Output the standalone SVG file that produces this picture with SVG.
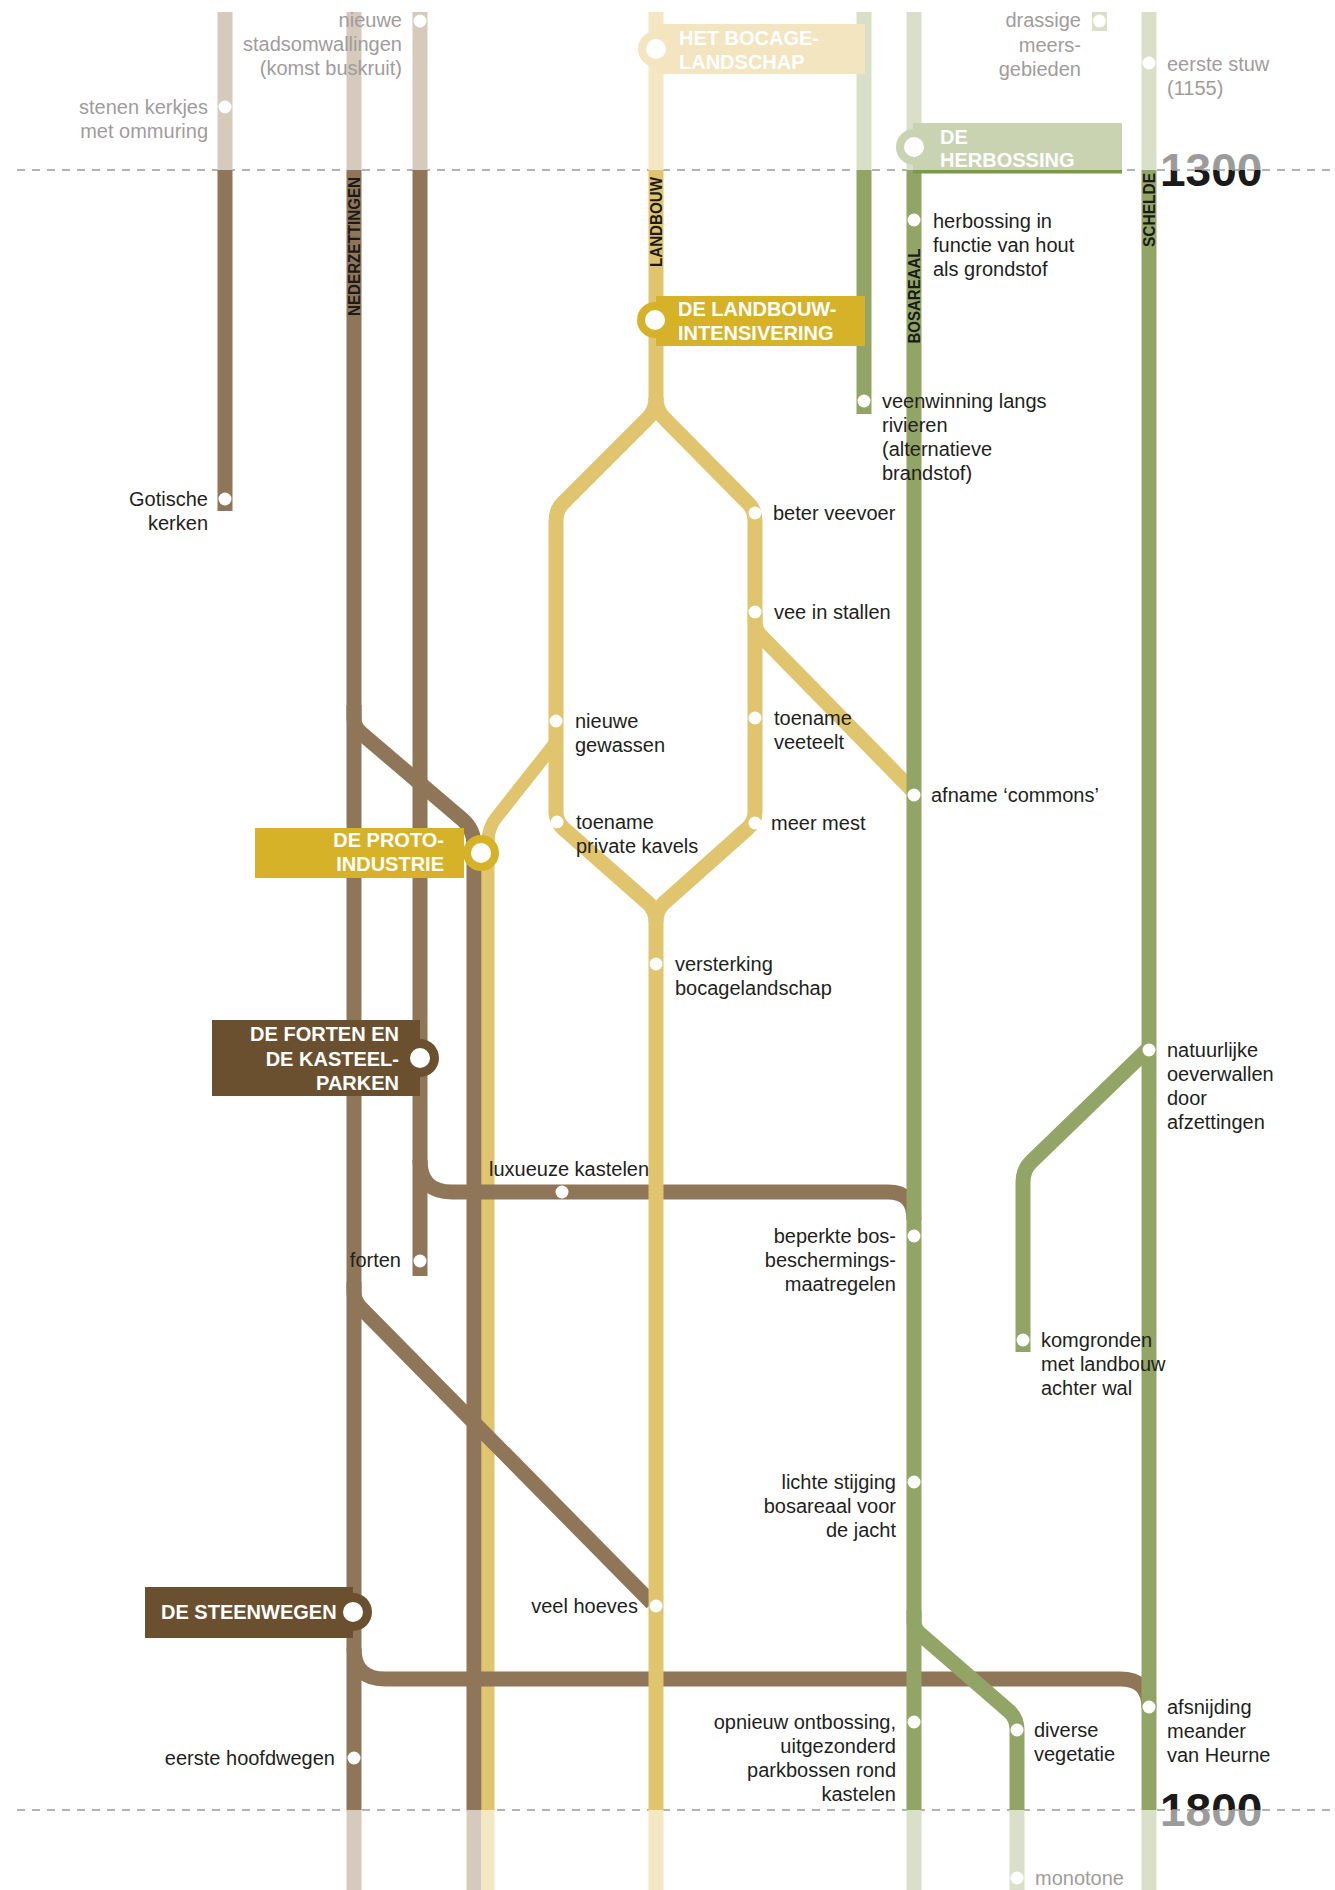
<svg xmlns="http://www.w3.org/2000/svg" width="1335" height="1890" viewBox="0 0 1335 1890">
<defs>
<style>
.t{font-family:"Liberation Sans",Arial,sans-serif;font-size:20px;fill:#231f20}
.f{fill:#a19c9c}
.e{text-anchor:end}
.h{font-family:"Liberation Sans",Arial,sans-serif;font-size:20px;font-weight:bold;fill:#fff}
.v{font-family:"Liberation Sans",Arial,sans-serif;font-weight:bold;font-size:17px;fill:#1a1a1a;text-anchor:middle}
.yr{font-family:"Liberation Sans",Arial,sans-serif;font-weight:bold;font-size:46px}
.l{fill:none;stroke-width:15;stroke-linecap:butt;stroke-linejoin:round}
.br{stroke:#8f7659}.ye{stroke:#e0c46e}.gr{stroke:#92a466}
.fb{stroke:#d6cabc}.fy{stroke:#f3e7c4}.fg{stroke:#dae0c8}
.d{fill:#fff}
.dash{stroke:#9a9a9a;stroke-width:1.3;stroke-dasharray:8 7;fill:none}
</style>
<linearGradient id="g1300" gradientUnits="userSpaceOnUse" x1="0" y1="150" x2="0" y2="190">
<stop offset="0.5" stop-color="#9b9b9b"/><stop offset="0.5" stop-color="#1a1a1a"/>
</linearGradient>
<linearGradient id="g1800" gradientUnits="userSpaceOnUse" x1="0" y1="1790" x2="0" y2="1830">
<stop offset="0.5" stop-color="#1a1a1a"/><stop offset="0.5" stop-color="#9b9b9b"/>
</linearGradient>
</defs>
<rect x="0" y="0" width="1335" height="1890" fill="#fff"/>
<g id="timeline">
<text class="yr" x="1160" y="186" fill="url(#g1300)">1300</text>
<text class="yr" x="1160" y="1826" fill="url(#g1800)">1800</text>
<line class="dash" x1="17" y1="170" x2="1335" y2="170"/>
<line class="dash" x1="17" y1="1810" x2="1335" y2="1810"/>
</g>
<g id="connectors">
<path class="l fb" d="M225,12V170M354,12V170M420,12V170"/>
<path class="l fy" d="M656,12V170"/>
<path class="l fg" d="M864,12V170M914,12V170M1149,12V170M1099.5,12V31"/>
<path class="l fb" d="M354,1810V1890M474,1810V1890"/>
<path class="l fy" d="M656,1810V1890"/>
<path class="l fy" style="stroke-width:13" d="M488,1810V1890"/>
<path class="l fg" d="M914,1810V1890M1017,1810V1890M1149,1810V1890"/>
<path class="l ye" style="stroke-width:13" d="M556,742L496,818Q488,828 488,842L488,1810"/>
<path class="l br" d="M225,170V511M354,170V1810M420,170V1276"/>
<path class="l br" d="M354,705L354,718Q354,727 361,733L463,820Q474,830 474,845L474,1810"/>
<path class="l br" d="M354,1282L354,1292Q354,1300 360,1307L652,1603"/>
<path class="l br" d="M420,1160Q420,1192 452,1192L888,1192Q914,1192 914,1220"/>
<path class="l br" d="M354,1648Q354,1679 385,1679L1120,1679Q1149,1679 1149,1708"/>
<path class="l gr" d="M914,1610L914,1622Q914,1628 919,1633L1010,1712Q1017,1719 1017,1730L1017,1810"/>
<path class="l ye" d="M656,170L656,400"/>
<path class="l ye" d="M656,398Q656,410 648,418L563,503Q556,510 556,521L556,812Q556,822 564,829L648,903Q656,910 656,922L656,1810"/>
<path class="l ye" d="M656,398Q656,410 664,418L748,503Q755,510 755,521L755,812Q755,822 747,829L664,903Q656,910 656,922"/>
<path class="l ye" d="M755,612L755,622Q755,630 761,636L914,792"/>
<path class="l gr" d="M864,170V414M914,170V1810M1149,170V1810"/>
<path class="l gr" d="M1149,1048L1031,1162Q1023,1170 1023,1182V1352"/>
</g>
<g id="line-labels">
<text class="v" transform="translate(360,246.5) rotate(-90)" textLength="139" lengthAdjust="spacingAndGlyphs">NEDERZETTINGEN</text>
<text class="v" transform="translate(662,222) rotate(-90)" textLength="90" lengthAdjust="spacingAndGlyphs">LANDBOUW</text>
<text class="v" transform="translate(920,296) rotate(-90)" textLength="95" lengthAdjust="spacingAndGlyphs">BOSAREAAL</text>
<text class="v" transform="translate(1155,210) rotate(-90)" textLength="74" lengthAdjust="spacingAndGlyphs">SCHELDE</text>
</g>
<g id="box-bocage">
<circle cx="656" cy="49" r="18" fill="#f2e5bf"/>
<rect x="656" y="24" width="209" height="50" fill="#f2e5bf"/>
<circle class="d" cx="656" cy="49" r="10"/>
<text class="h" x="679" y="45">HET BOCAGE-</text>
<text class="h" x="679" y="69">LANDSCHAP</text>
</g>
<g id="box-landbouw">
<circle cx="655" cy="320" r="18" fill="#d6b228"/>
<rect x="656" y="296" width="209" height="50" fill="#d6b228"/>
<circle class="d" cx="655" cy="320" r="10"/>
<text class="h" x="678" y="316">DE LANDBOUW-</text>
<text class="h" x="678" y="340">INTENSIVERING</text>
</g>
<g id="box-herbossing">
<circle cx="914" cy="147" r="18" fill="#c9d3b1"/>
<rect x="913" y="123" width="209" height="50" fill="#c9d3b1"/>
<rect x="913" y="170" width="209" height="3.5" fill="#7a9a46"/>
<circle class="d" cx="914" cy="147" r="10"/>
<text class="h" x="940" y="144">DE</text>
<text class="h" x="940" y="167">HERBOSSING</text>
</g>
<g id="box-proto">
<rect x="255" y="828" width="209" height="50" fill="#d6b228"/>
<circle cx="481" cy="853" r="18" fill="#d6b228"/>
<circle class="d" cx="481" cy="853" r="10"/>
<text class="h e" x="444" y="847">DE PROTO-</text>
<text class="h e" x="444" y="871">INDUSTRIE</text>
</g>
<g id="box-forten">
<rect x="212" y="1020" width="208" height="76" fill="#6b5030"/>
<circle cx="420" cy="1058" r="19" fill="#6b5030"/>
<circle class="d" cx="420" cy="1058" r="10"/>
<text class="h e" x="399" y="1041">DE FORTEN EN</text>
<text class="h e" x="399" y="1066">DE KASTEEL-</text>
<text class="h e" x="399" y="1090">PARKEN</text>
</g>
<g id="box-steenwegen">
<rect x="145" y="1587" width="208" height="51" fill="#6b5030"/>
<circle cx="353" cy="1612" r="19" fill="#6b5030"/>
<circle class="d" cx="353" cy="1612" r="10"/>
<text class="h" x="161" y="1619">DE STEENWEGEN</text>
</g>
<g id="n-stenen"><circle class="d" cx="225" cy="107" r="6.5"/><text class="t f e" x="208" y="114">stenen kerkjes</text><text class="t f e" x="208" y="138">met ommuring</text></g>
<g id="n-gotisch"><circle class="d" cx="225" cy="499" r="6.5"/><text class="t e" x="208" y="506">Gotische</text><text class="t e" x="208" y="530">kerken</text></g>
<g id="n-stadsom"><circle class="d" cx="420" cy="21" r="6.5"/><text class="t f e" x="402" y="27">nieuwe</text><text class="t f e" x="402" y="51">stadsomwallingen</text><text class="t f e" x="402" y="75">(komst buskruit)</text></g>
<g id="n-drassig"><circle class="d" cx="1099.5" cy="21" r="6.5"/><text class="t f e" x="1081" y="27">drassige</text><text class="t f e" x="1081" y="52">meers-</text><text class="t f e" x="1081" y="76">gebieden</text></g>
<g id="n-stuw"><circle class="d" cx="1149" cy="63" r="6.5"/><text class="t f" x="1167" y="71">eerste stuw</text><text class="t f" x="1167" y="95">(1155)</text></g>
<g id="n-herbossing-in"><circle class="d" cx="914" cy="220" r="6.5"/><text class="t" x="933" y="228">herbossing in</text><text class="t" x="933" y="252">functie van hout</text><text class="t" x="933" y="276">als grondstof</text></g>
<g id="n-veen"><circle class="d" cx="864" cy="401" r="6.5"/><text class="t" x="882" y="408">veenwinning langs</text><text class="t" x="882" y="432">rivieren</text><text class="t" x="882" y="456">(alternatieve</text><text class="t" x="882" y="480">brandstof)</text></g>
<g id="n-veevoer"><circle class="d" cx="755" cy="513" r="6.5"/><text class="t" x="773" y="520">beter veevoer</text></g>
<g id="n-stallen"><circle class="d" cx="755" cy="612" r="6.5"/><text class="t" x="774" y="619">vee in stallen</text></g>
<g id="n-veeteelt"><circle class="d" cx="755" cy="718" r="6.5"/><text class="t" x="774" y="725">toename</text><text class="t" x="774" y="749">veeteelt</text></g>
<g id="n-commons"><circle class="d" cx="914" cy="795" r="6.5"/><text class="t" x="931" y="802">afname ‘commons’</text></g>
<g id="n-mest"><circle class="d" cx="755" cy="823" r="6.5"/><text class="t" x="771" y="830">meer mest</text></g>
<g id="n-gewassen"><circle class="d" cx="556" cy="721" r="6.5"/><text class="t" x="575" y="728">nieuwe</text><text class="t" x="575" y="752">gewassen</text></g>
<g id="n-kavels"><circle class="d" cx="557" cy="822" r="6.5"/><text class="t" x="576" y="829">toename</text><text class="t" x="576" y="853">private kavels</text></g>
<g id="n-versterking"><circle class="d" cx="656" cy="964" r="6.5"/><text class="t" x="675" y="971">versterking</text><text class="t" x="675" y="995">bocagelandschap</text></g>
<g id="n-luxe"><circle class="d" cx="562" cy="1192" r="6.5"/><text class="t" x="489" y="1176">luxueuze kastelen</text></g>
<g id="n-forten"><circle class="d" cx="420" cy="1261" r="6.5"/><text class="t e" x="401" y="1267">forten</text></g>
<g id="n-beperkt"><circle class="d" cx="914" cy="1236" r="6.5"/><text class="t e" x="896" y="1243">beperkte bos-</text><text class="t e" x="896" y="1267">beschermings-</text><text class="t e" x="896" y="1291">maatregelen</text></g>
<g id="n-natuur"><circle class="d" cx="1149" cy="1050" r="6.5"/><text class="t" x="1167" y="1057">natuurlijke</text><text class="t" x="1167" y="1081">oeverwallen</text><text class="t" x="1167" y="1105">door</text><text class="t" x="1167" y="1129">afzettingen</text></g>
<g id="n-kom"><circle class="d" cx="1023" cy="1340" r="6.5"/><text class="t" x="1041" y="1347">komgronden</text><text class="t" x="1041" y="1371">met landbouw</text><text class="t" x="1041" y="1395">achter wal</text></g>
<g id="n-jacht"><circle class="d" cx="914" cy="1482" r="6.5"/><text class="t e" x="896" y="1489">lichte stijging</text><text class="t e" x="896" y="1513">bosareaal voor</text><text class="t e" x="896" y="1537">de jacht</text></g>
<g id="n-hoeves"><circle class="d" cx="656" cy="1606" r="6.5"/><text class="t e" x="638" y="1613">veel hoeves</text></g>
<g id="n-ontbos"><circle class="d" cx="914" cy="1722" r="6.5"/><text class="t e" x="896" y="1729">opnieuw ontbossing,</text><text class="t e" x="896" y="1753">uitgezonderd</text><text class="t e" x="896" y="1777">parkbossen rond</text><text class="t e" x="896" y="1801">kastelen</text></g>
<g id="n-diverse"><circle class="d" cx="1017" cy="1730" r="6.5"/><text class="t" x="1034" y="1737">diverse</text><text class="t" x="1034" y="1761">vegetatie</text></g>
<g id="n-afsnij"><circle class="d" cx="1149" cy="1707" r="6.5"/><text class="t" x="1167" y="1714">afsnijding</text><text class="t" x="1167" y="1738">meander</text><text class="t" x="1167" y="1762">van Heurne</text></g>
<g id="n-hoofdweg"><circle class="d" cx="354" cy="1758" r="6.5"/><text class="t e" x="335" y="1765">eerste hoofdwegen</text></g>
<g id="n-monotone"><circle class="d" cx="1017" cy="1878" r="6.5"/><text class="t f" x="1035" y="1885">monotone</text></g>
</svg>
